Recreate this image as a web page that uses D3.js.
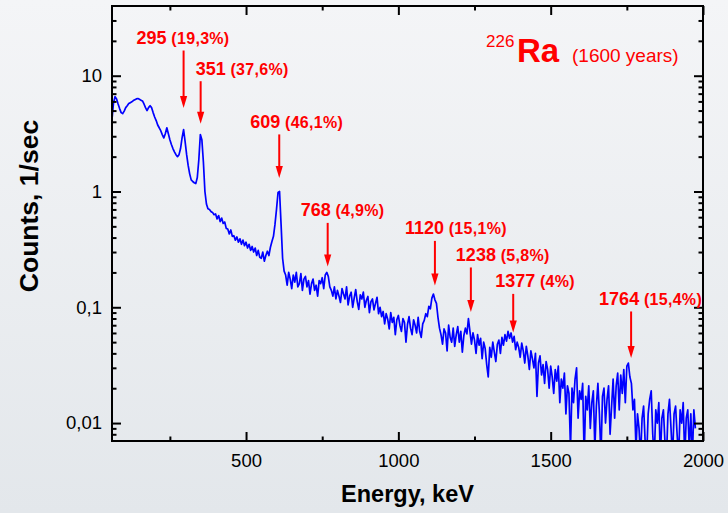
<!DOCTYPE html>
<html>
<head>
<meta charset="utf-8">
<script src="https://cdn.jsdelivr.net/npm/d3@7"></script>
<style>
  html, body { margin: 0; padding: 0; }
  body { width: 728px; height: 513px; overflow: hidden; }
  svg { display: block; font-family: "Liberation Sans", Arial, sans-serif; }
</style>
</head>
<body>
<svg id="chart" width="728" height="513"></svg>
<script>
// Ra-226 gamma spectrum, count rate per 5 keV channel
const channelStart = 60;   // keV, first channel
const channelWidth = 5;    // keV per channel

const counts = [
  // 60-95
  4.2, 5.85, 6.6, 6.3, 5.7, 5.2, 4.8, 4.7,
  // 100-195
  4.95, 5.3, 5.5, 5.75, 5.85, 5.95, 6.1, 6.2, 6.3, 6.35, 6.25, 6.15, 6.05, 5.7, 5.3, 5.0, 5.3, 5.5, 5.3, 4.8,
  // 200-295
  4.4, 4.1, 3.75, 3.55, 3.35, 3.1, 2.9, 3.15, 3.55, 3.15, 2.8, 2.55, 2.35, 2.2, 2.08, 2.0, 2.08, 2.35, 2.9, 3.42,
  // 300-395
  2.7, 2.08, 1.68, 1.42, 1.26, 1.22, 1.19, 1.17, 1.32, 1.88, 3.1, 2.8, 1.8, 1.0, 0.78, 0.71, 0.70, 0.67, 0.66, 0.63,
  // 400-495
  0.64, 0.58, 0.62, 0.55, 0.59, 0.53, 0.545, 0.48, 0.475, 0.43, 0.465, 0.41, 0.415, 0.38, 0.405, 0.365, 0.39, 0.35, 0.38, 0.34,
  // 500-595
  0.365, 0.325, 0.35, 0.31, 0.335, 0.3, 0.325, 0.28, 0.31, 0.27, 0.265, 0.3, 0.25, 0.28, 0.305, 0.28, 0.33, 0.37, 0.41, 0.52,
  // 600-695
  0.70, 0.98, 1.0, 0.52, 0.265, 0.205, 0.19, 0.155, 0.2, 0.175, 0.145, 0.19, 0.165, 0.2, 0.15, 0.16, 0.195, 0.14, 0.175, 0.185,
  // 700-795
  0.15, 0.17, 0.13, 0.16, 0.175, 0.14, 0.155, 0.125, 0.17, 0.16, 0.18, 0.145, 0.19, 0.2, 0.185, 0.15, 0.14, 0.125, 0.15, 0.118,
  // 800-895
  0.14, 0.125, 0.11, 0.145, 0.13, 0.118, 0.15, 0.105, 0.125, 0.135, 0.1, 0.12, 0.142, 0.112, 0.096, 0.128, 0.118, 0.135, 0.1, 0.115,
  // 900-995
  0.124, 0.09, 0.112, 0.118, 0.095, 0.108, 0.122, 0.088, 0.1, 0.083, 0.092, 0.072, 0.088, 0.079, 0.065, 0.09, 0.074, 0.082, 0.058, 0.078,
  // 1000-1095
  0.085, 0.07, 0.062, 0.08, 0.074, 0.05, 0.071, 0.083, 0.066, 0.058, 0.078, 0.07, 0.06, 0.082, 0.062, 0.055, 0.072, 0.077, 0.088, 0.083,
  // 1100-1195
  0.102, 0.097, 0.12, 0.13, 0.116, 0.108, 0.082, 0.066, 0.058, 0.048, 0.065, 0.06, 0.042, 0.07, 0.055, 0.05, 0.066, 0.046, 0.058, 0.068,
  // 1200-1295
  0.05, 0.062, 0.041, 0.057, 0.066, 0.059, 0.08, 0.062, 0.048, 0.06, 0.052, 0.04, 0.058, 0.047, 0.054, 0.036, 0.05, 0.044, 0.032, 0.025,
  // 1300-1395
  0.045, 0.037, 0.05, 0.041, 0.034, 0.048, 0.052, 0.04, 0.055, 0.047, 0.058, 0.051, 0.062, 0.054, 0.06, 0.05, 0.056, 0.043, 0.05, 0.045,
  // 1400-1495
  0.037, 0.049, 0.042, 0.033, 0.046, 0.038, 0.029, 0.042, 0.036, 0.03, 0.04, 0.017, 0.033, 0.038, 0.026, 0.032, 0.022, 0.034, 0.029, 0.02,
  // 1500-1595
  0.031, 0.025, 0.018, 0.029, 0.023, 0.031, 0.015, 0.024, 0.02, 0.027, 0.012, 0.021, 0.018, 0.006, 0.02, 0.015, 0.024, 0.03, 0.011, 0.019,
  // 1600-1695
  0.016, 0.022, 0.005, 0.017, 0.013, 0.021, 0.009, 0.015, 0.019, 0.006, 0.014, 0.022, 0.012, 0.005, 0.017, 0.02, 0.01, 0.016, 0.021, 0.008,
  // 1700-1795
  0.014, 0.024, 0.011, 0.021, 0.027, 0.013, 0.026, 0.018, 0.029, 0.015, 0.031, 0.033, 0.025, 0.022, 0.013, 0.016, 0.006, 0.012, 0.009, 0.005,
  // 1800-1895
  0.011, 0.014, 0.007, 0.005, 0.012, 0.016, 0.019, 0.008, 0.005, 0.013, 0.01, 0.015, 0.005, 0.011, 0.013, 0.007, 0.005, 0.012, 0.016, 0.009,
  // 1900-1975
  0.005, 0.012, 0.014, 0.008, 0.005, 0.013, 0.01, 0.015, 0.005, 0.011, 0.013, 0.006, 0.012, 0.005, 0.013, 0.009
];

// Gamma lines of the Ra-226 decay chain and their emission probabilities
const peakEnergies = [295, 351, 609, 768, 1120, 1238, 1377, 1764];
const peakYields = ["19,3%", "37,6%", "46,1%", "4,9%", "15,1%", "5,8%", "4%", "15,4%"];

// Axis ticks
const xTickValues = [500, 1000, 1500, 2000];
const xMinorTicks = [250, 750, 1250, 1750];
const yTickValues = [10, 1, 0.1, 0.01];
const yTickLabels = ["10", "1", "0,1", "0,01"];

// Annotation placement: arrow tip level (counts), label baseline height above tip (px), label x shift (px)
const arrowLayout = [
  { tip: 5.26,   rise: 64, dx: -47 },
  { tip: 3.85,   rise: 49, dx: -5 },
  { tip: 1.31,   rise: 50, dx: -29 },
  { tip: 0.2255, rise: 50, dx: -27 },
  { tip: 0.1545, rise: 51, dx: -30 },
  { tip: 0.0911, rise: 51, dx: -15 },
  { tip: 0.0607, rise: 45, dx: -18 },
  { tip: 0.0365, rise: 53, dx: -32 }
];

const W = 728, H = 513;
const plot = { left: 112, right: 703, top: 6, bottom: 441 };
const red = "#ff0000";

const svg = d3.select("#chart");

// background wash
const defs = svg.append("defs");
const grad = defs.append("linearGradient").attr("id", "bg").attr("x1", 0).attr("y1", 0).attr("x2", 0).attr("y2", 1);
grad.append("stop").attr("offset", "0%").attr("stop-color", "#f4f5f7");
grad.append("stop").attr("offset", "100%").attr("stop-color", "#e3e7eb");
svg.append("rect").attr("width", W).attr("height", H).attr("fill", "url(#bg)");

defs.append("clipPath").attr("id", "plotClip")
  .append("rect")
  .attr("x", plot.left).attr("y", plot.top)
  .attr("width", plot.right - plot.left).attr("height", plot.bottom - plot.top);

const x = d3.scaleLinear().domain([60, 2000]).range([plot.left, plot.right]);
const y = d3.scaleLog().domain([0.007, 40]).range([plot.bottom, plot.top]);

// spectrum
const line = d3.line()
  .x((d, i) => x(channelStart + i * channelWidth))
  .y(d => y(d));

svg.append("path")
  .datum(counts)
  .attr("clip-path", "url(#plotClip)")
  .attr("fill", "none")
  .attr("stroke", "#0000ff")
  .attr("stroke-width", 1.7)
  .attr("stroke-linejoin", "round")
  .attr("d", line);

// minor y ticks: 2..9 of each decade inside the domain
const yMinor = [];
for (let p = -3; p <= 1; p++) {
  for (let m = 2; m <= 9; m++) {
    const v = m * Math.pow(10, p);
    if (v > 0.007 && v < 40) yMinor.push(v);
  }
}

function styleAxis(g) {
  g.select(".domain").remove();
  g.selectAll(".tick line").attr("stroke", "#000").attr("stroke-width", 2);
  g.selectAll("text")
    .attr("fill", "#000")
    .attr("font-family", "Liberation Sans, Arial, sans-serif")
    .attr("font-size", 18.5);
}

// left axis
svg.append("g").attr("transform", `translate(${plot.left},0)`)
  .call(d3.axisLeft(y).tickValues(yTickValues)
    .tickFormat((d, i) => yTickLabels[i]).tickSize(-9).tickPadding(10))
  .call(styleAxis);
svg.append("g").attr("transform", `translate(${plot.left},0)`)
  .call(d3.axisLeft(y).tickValues(yMinor).tickFormat("").tickSize(-4.5))
  .call(styleAxis);

// right axis (mirrored ticks)
svg.append("g").attr("transform", `translate(${plot.right},0)`)
  .call(d3.axisRight(y).tickValues(yTickValues).tickFormat("").tickSize(-9))
  .call(styleAxis);
svg.append("g").attr("transform", `translate(${plot.right},0)`)
  .call(d3.axisRight(y).tickValues(yMinor).tickFormat("").tickSize(-4.5))
  .call(styleAxis);

// bottom axis
svg.append("g").attr("transform", `translate(0,${plot.bottom})`)
  .call(d3.axisBottom(x).tickValues(xTickValues).tickFormat(d3.format("d")).tickSize(-9).tickPadding(12.6))
  .call(styleAxis);
svg.append("g").attr("transform", `translate(0,${plot.bottom})`)
  .call(d3.axisBottom(x).tickValues(xMinorTicks).tickFormat("").tickSize(-4.5))
  .call(styleAxis);

// top axis (mirrored ticks)
svg.append("g").attr("transform", `translate(0,${plot.top})`)
  .call(d3.axisTop(x).tickValues(xTickValues).tickFormat("").tickSize(-9))
  .call(styleAxis);
svg.append("g").attr("transform", `translate(0,${plot.top})`)
  .call(d3.axisTop(x).tickValues(xMinorTicks).tickFormat("").tickSize(-4.5))
  .call(styleAxis);

// frame
svg.append("rect")
  .attr("x", plot.left).attr("y", plot.top)
  .attr("width", plot.right - plot.left).attr("height", plot.bottom - plot.top)
  .attr("fill", "none").attr("stroke", "#000").attr("stroke-width", 2);

// axis titles
svg.append("text")
  .attr("x", (plot.left + plot.right) / 2).attr("y", 502)
  .attr("text-anchor", "middle")
  .attr("font-size", 23.5).attr("font-weight", "bold").attr("fill", "#000")
  .text("Energy, keV");

svg.append("text")
  .attr("transform", "translate(38,206) rotate(-90)")
  .attr("text-anchor", "middle")
  .attr("font-size", 26.5).attr("font-weight", "bold").attr("fill", "#000")
  .text("Counts, 1/sec");

// peak annotations
const ann = svg.append("g").attr("class", "peaks");
peakEnergies.forEach((e, i) => {
  const lay = arrowLayout[i];
  const ax = x(e);
  const tipY = y(lay.tip);
  const baseY = tipY - lay.rise;
  const head = 12;

  ann.append("line")
    .attr("x1", ax).attr("x2", ax)
    .attr("y1", baseY + 6.5).attr("y2", tipY - head + 1)
    .attr("stroke", red).attr("stroke-width", 2);
  ann.append("path")
    .attr("d", `M${ax - 3.6},${tipY - head} L${ax + 3.6},${tipY - head} L${ax},${tipY} Z`)
    .attr("fill", red);

  const t = ann.append("text")
    .attr("x", ax + lay.dx).attr("y", baseY)
    .attr("fill", red).attr("font-weight", "bold").attr("font-size", 18);
  t.append("tspan").text(String(e));
  t.append("tspan").attr("font-size", 16).attr("letter-spacing", 0.3).text(" (" + peakYields[i] + ")");
});

// isotope title
const title = svg.append("text").attr("y", 62.3).attr("fill", red);
title.append("tspan").attr("x", 486).attr("y", 46.7).attr("font-size", 17).text("226");
title.append("tspan").attr("x", 517).attr("y", 62.3).attr("font-size", 33).attr("font-weight", "bold").text("Ra");
title.append("tspan").attr("x", 572).attr("y", 62.3).attr("font-size", 19).text("(1600 years)");
</script>
</body>
</html>
